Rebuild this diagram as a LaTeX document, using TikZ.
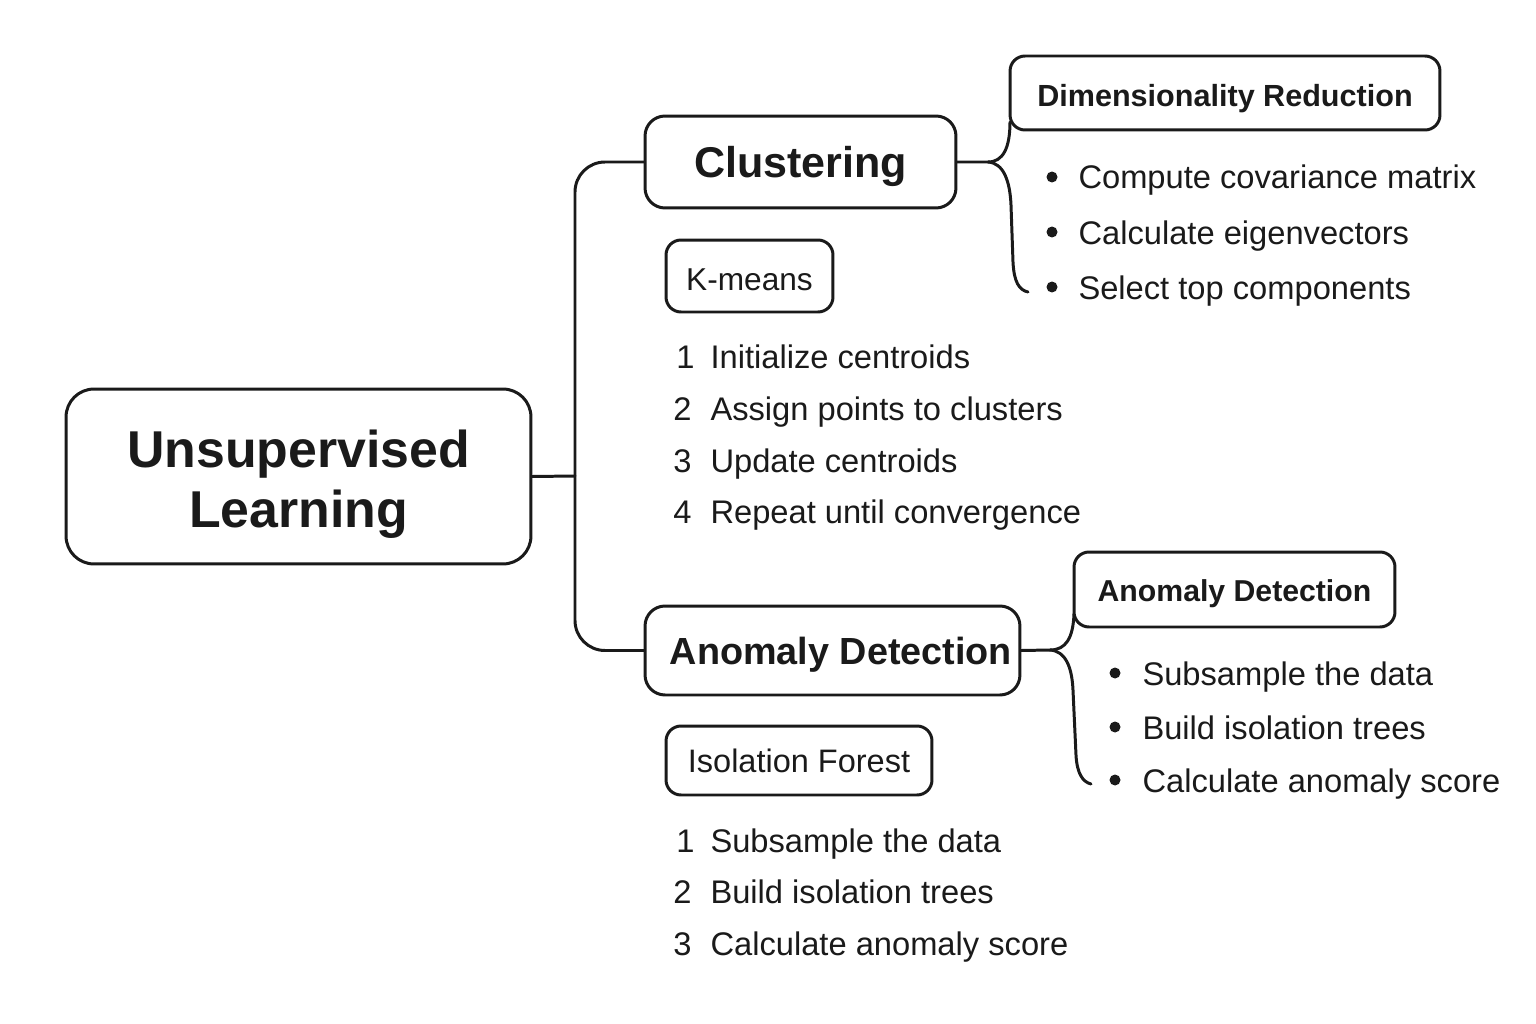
\documentclass[tikz,border=0pt]{standalone}
\usepackage{fontspec}
\setmainfont{Liberation Sans}
\usetikzlibrary{calc}
\definecolor{ink}{HTML}{1A1A1A}
\begin{document}
\begin{tikzpicture}[x=0.02cm,y=-0.02cm,
  line width=1.7pt, draw=ink, text=ink,
  box/.style={draw=ink, line width=1.7pt, inner sep=0pt, text depth=0pt},
  bigbox/.style={draw=ink, line width=1.7pt, inner sep=0pt, align=center, rounded corners=0.56cm},
  midbox/.style={box, rounded corners=0.4cm},
  smallbox/.style={box, rounded corners=0.3cm},
  item/.style={anchor=base west, inner sep=0pt, font=\fontsize{18.6}{22}\selectfont},
  num/.style={anchor=base west, inner sep=0pt, font=\fontsize{18.6}{22}\selectfont},
  dot/.style={circle, fill=ink, draw=none, minimum size=0.22cm, inner sep=0pt},
  conn/.style={draw=ink, line width=1.7pt, line cap=round}
]
\useasboundingbox[fill=white] (0,0) rectangle (1536,1024);

% main nodes
\node[bigbox, minimum width=9.3cm, minimum height=3.5cm,
      font=\fontsize{29.5}{35}\selectfont\bfseries] (root) at (298.5,476.5)
      {\raisebox{-0.17cm}[\height][\depth]{\begin{tabular}{@{}c@{}}Unsupervised\\[-0.03cm]Learning\end{tabular}}};
\node[midbox, minimum width=6.22cm, minimum height=1.84cm, text height=17.9pt,
      font=\fontsize{24.5}{28}\selectfont\bfseries] (clust) at (800.5,162) {Clustering};
\node[midbox, minimum width=7.5cm, minimum height=1.78cm, text height=15.4pt,
      font=\fontsize{21.5}{26}\selectfont\bfseries] (anom) at (832.5,650.5) {\hspace*{0.34cm}Anomaly Detection};

% sub boxes
\node[smallbox, minimum width=3.34cm, minimum height=1.44cm, text height=16.3pt,
      font=\fontsize{18}{22}\selectfont] (kmeans) at (749.5,276) {K-means};
\node[smallbox, minimum width=5.32cm, minimum height=1.38cm, text height=13.6pt,
      font=\fontsize{18.5}{22}\selectfont] (iso) at (799,760.5) {Isolation Forest};
\node[smallbox, minimum width=8.6cm, minimum height=1.48cm, text height=15.3pt,
      font=\fontsize{17.4}{22}\selectfont\bfseries] (dim) at (1225,93) {Dimensionality Reduction};
\node[smallbox, minimum width=6.42cm, minimum height=1.5cm, text height=14pt,
      font=\fontsize{17.2}{22}\selectfont\bfseries] (anomsub) at (1234.5,589.5) {Anomaly Detection};

% K-means steps
\node[num] (kn1) at (675,368) {1};
\node[item] (k1) at (709,368) {Initialize centroids};
\node[num] (kn2) at (672,420) {2};
\node[item] (k2) at (709,420) {Assign points to clusters};
\node[num] (kn3) at (672,472) {3};
\node[item] (k3) at (709,472) {Update centroids};
\node[num] (kn4) at (672,523) {4};
\node[item] (k4) at (709,523) {Repeat until convergence};

% Isolation forest steps
\node[num] (in1) at (675,852) {1};
\node[item] (i1) at (709,852) {Subsample the data};
\node[num] (in2) at (672,903) {2};
\node[item] (i2) at (709,903) {Build isolation trees};
\node[num] (in3) at (672,955) {3};
\node[item] (i3) at (709,955) {Calculate anomaly score};

% Dim reduction bullets
\node[dot] (db1) at (1052,177) {};
\node[item] (d1) at (1077,189) {Compute covariance matrix};
\node[dot] (db2) at (1052,232) {};
\node[item] (d2) at (1077,244) {Calculate eigenvectors};
\node[dot] (db3) at (1052,287) {};
\node[item] (d3) at (1077,299) {Select top components};

% Anomaly bullets
\node[dot] (ab1) at (1115,673) {};
\node[item] (a1) at (1141,685) {Subsample the data};
\node[dot] (ab2) at (1115,727) {};
\node[item] (a2) at (1141,739) {Build isolation trees};
\node[dot] (ab3) at (1115,780) {};
\node[item] (a3) at (1141,792) {Calculate anomaly score};

% connectors
\coordinate (trunk) at (575,476);
\draw[conn] (root.east) -- (trunk);
\draw[conn, rounded corners=0.6cm] (clust.west) -| (trunk) |- (anom.west);

\coordinate (cj) at (988,162);
\coordinate (cup) at (1010,122);
\coordinate (cdn) at (1028,292);
\draw[conn] (clust.east) -- (cj) .. controls (1003,162) and (1010,148) .. (cup);
\draw[conn] (cj) .. controls (1004,163) and (1010,182) .. (1011,205)
  -- (1013,262) .. controls (1014,282) and (1019,290) .. (cdn);

\coordinate (aj) at (1050,650);
\coordinate (aup) at (1074,614);
\coordinate (adn) at (1091,784);
\draw[conn] (anom.east) -- (aj) .. controls (1066,650) and (1073,638) .. (aup);
\draw[conn] (aj) .. controls (1066,651) and (1072,668) .. (1073,690)
  -- (1076,755) .. controls (1077,774) and (1083,782) .. (adn);
\end{tikzpicture}
\end{document}
